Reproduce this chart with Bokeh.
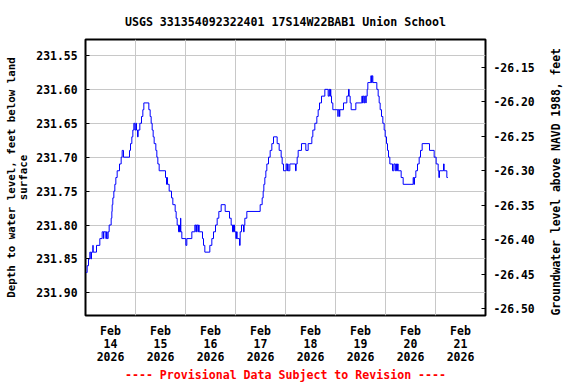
import math
from bokeh.plotting import figure
from bokeh.models import Range1d, LinearAxis, FixedTicker, PrintfTickFormatter
from bokeh.embed import file_html
from bokeh.resources import INLINE

# observation times: hours after 2026-02-14 00:00
obs_hour = [0.32, 0.80, 1.44, 2.08, 2.56, 2.88, 3.52, 3.68, 5.28, 6.88, 8.00, 8.64, 8.80, 9.76,
            10.08, 10.40, 10.88, 11.36, 12.32, 12.64, 12.80, 13.12, 13.60, 14.08, 14.56, 15.20,
            16.32, 17.12, 17.60, 18.24, 21.12, 21.60, 22.24, 22.72, 23.20, 23.68, 24.16, 24.48,
            24.96, 25.28, 26.08, 26.88, 27.52, 28.00, 30.40, 31.04, 31.52, 32.00, 32.48, 32.96,
            33.76, 34.24, 34.72, 35.36, 38.40, 38.88, 39.04, 39.36, 40.16, 41.28, 41.92, 43.04,
            43.52, 44.00, 44.64, 45.12, 45.28, 45.60, 45.76, 46.24, 48.16, 48.64, 51.04, 52.48,
            52.96, 53.28, 53.92, 54.24, 54.56, 56.16, 56.64, 57.28, 59.68, 60.64, 61.44, 62.40,
            63.20, 64.00, 65.12, 67.04, 69.12, 69.92, 70.56, 71.04, 71.52, 72.16, 72.48, 72.80,
            73.92, 74.24, 74.88, 75.84, 76.16, 76.48, 77.44, 83.84, 84.80, 85.28, 85.60, 86.08,
            86.56, 87.04, 87.84, 88.64, 89.44, 90.24, 92.00, 92.96, 93.92, 94.40, 95.04, 96.32,
            96.80, 96.96, 97.28, 98.08, 100.80, 101.12, 101.60, 102.08, 103.68, 105.76, 106.88,
            108.64, 109.12, 110.08, 111.04, 111.68, 112.32, 113.28, 114.88, 116.48, 116.96,
            117.28, 117.60, 117.76, 118.08, 118.72, 121.12, 121.28, 121.92, 122.08, 123.84,
            125.44, 126.24, 126.56, 127.04, 127.52, 129.76, 132.64, 132.96, 133.28, 133.76,
            134.08, 134.56, 134.72, 135.20, 135.52, 136.96, 137.28, 137.60, 137.92, 139.84,
            140.48, 140.96, 141.44, 142.08, 142.72, 143.36, 143.84, 144.48, 144.96, 145.44,
            146.08, 147.36, 148.00, 148.64, 148.96, 149.28, 149.76, 150.08, 151.52, 152.48,
            157.28, 157.60, 157.92, 158.56, 159.36, 160.16, 160.80, 161.60, 165.12, 167.36,
            168.32, 169.28, 169.60, 169.92, 171.84, 172.16, 173.44, 173.92]

depth_ft = [231.87, 231.86, 231.85, 231.84, 231.85, 231.84, 231.83, 231.84, 231.83, 231.82, 231.81,
            231.82, 231.81, 231.82, 231.81, 231.82, 231.81, 231.80, 231.79, 231.78, 231.77, 231.76,
            231.75, 231.74, 231.73, 231.72, 231.71, 231.70, 231.69, 231.70, 231.69, 231.68, 231.67,
            231.66, 231.65, 231.66, 231.65, 231.66, 231.67, 231.66, 231.65, 231.64, 231.63, 231.62,
            231.63, 231.64, 231.65, 231.66, 231.67, 231.68, 231.69, 231.70, 231.71, 231.72, 231.73,
            231.74, 231.73, 231.74, 231.75, 231.76, 231.77, 231.78, 231.79, 231.80, 231.81, 231.80,
            231.81, 231.79, 231.81, 231.82, 231.83, 231.82, 231.81, 231.80, 231.81, 231.80, 231.81,
            231.80, 231.81, 231.82, 231.83, 231.84, 231.83, 231.82, 231.81, 231.80, 231.79, 231.78,
            231.77, 231.78, 231.79, 231.80, 231.81, 231.80, 231.81, 231.82, 231.81, 231.82, 231.83,
            231.81, 231.80, 231.81, 231.80, 231.79, 231.78, 231.77, 231.76, 231.75, 231.74, 231.73,
            231.72, 231.71, 231.70, 231.69, 231.68, 231.67, 231.68, 231.69, 231.70, 231.71, 231.72,
            231.71, 231.72, 231.71, 231.72, 231.71, 231.72, 231.71, 231.70, 231.69, 231.68, 231.69,
            231.68, 231.67, 231.66, 231.65, 231.64, 231.63, 231.62, 231.61, 231.60, 231.61, 231.60,
            231.61, 231.60, 231.61, 231.62, 231.63, 231.64, 231.63, 231.64, 231.63, 231.62, 231.61,
            231.60, 231.61, 231.62, 231.63, 231.62, 231.61, 231.62, 231.61, 231.62, 231.61, 231.62,
            231.61, 231.60, 231.59, 231.58, 231.59, 231.58, 231.59, 231.60, 231.61, 231.62, 231.63,
            231.64, 231.65, 231.66, 231.67, 231.68, 231.69, 231.70, 231.71, 231.72, 231.71, 231.72,
            231.71, 231.72, 231.71, 231.72, 231.73, 231.74, 231.73, 231.74, 231.73, 231.72, 231.71,
            231.70, 231.69, 231.68, 231.69, 231.70, 231.71, 231.72, 231.73, 231.72, 231.71, 231.72,
            231.73, 231.73]

day_label_hours = [12, 36, 60, 84, 108, 132, 156, 180]
day_labels = ["Feb\n14\n2026", "Feb\n15\n2026", "Feb\n16\n2026", "Feb\n17\n2026",
              "Feb\n18\n2026", "Feb\n19\n2026", "Feb\n20\n2026", "Feb\n21\n2026"]
day_bounds = [24, 48, 72, 96, 120, 144, 168]
left_ticks = [231.55, 231.60, 231.65, 231.70, 231.75, 231.80, 231.85, 231.90]
right_ticks = [-26.15, -26.20, -26.25, -26.30, -26.35, -26.40, -26.45, -26.50]

FONT = "DejaVu Sans Mono"

# Bokeh's standalone page template sets the body margin to 0, so the canvas
# fills the 576x384 window exactly.
p = figure(width=576, height=384, output_backend="svg", toolbar_location=None,
           x_range=Range1d(0, 192), y_range=Range1d(231.9334, 231.5265),
           min_border_left=85, min_border_right=91, min_border_top=39, min_border_bottom=68,
           title="USGS 331354092322401 17S14W22BAB1 Union School")

p.title.align = "center"
p.title.text_font = FONT
p.title.text_font_size = "11.6px"
p.title.text_font_style = "bold"
p.title.text_color = "black"
p.title.standoff = 21

p.extra_y_ranges = {"elev": Range1d(-26.5097, -26.1095)}

p.outline_line_color = "black"
p.outline_line_width = 2
p.background_fill_color = "white"
p.border_fill_color = "white"

p.step(obs_hour, depth_ft, mode="after", line_color="#0000ff", line_width=1)

# x axis
xa = p.xaxis[0]
xa.ticker = FixedTicker(ticks=day_label_hours)
xa.major_label_overrides = dict(zip(day_label_hours, day_labels))
xa.major_tick_line_color = None
xa.major_tick_in = 0
xa.major_tick_out = 0
xa.minor_tick_line_color = None
xa.axis_line_color = None
xa.major_label_text_font = FONT
xa.major_label_text_font_size = "11.5px"
xa.major_label_text_font_style = "bold"
xa.major_label_text_color = "black"
xa.major_label_text_line_height = 0.93
xa.major_label_standoff = 8
xa.axis_label = "---- Provisional Data Subject to Revision ----"
xa.axis_label_text_font = FONT
xa.axis_label_text_font_size = "11.6px"
xa.axis_label_text_font_style = "bold"
xa.axis_label_text_color = "#ff0000"
xa.axis_label_text_line_height = 0.9
xa.axis_label_standoff = 1
p.xgrid.ticker = FixedTicker(ticks=day_bounds)
p.xgrid.grid_line_color = "#c8c8c8"

# left axis
ya = p.yaxis[0]
ya.ticker = FixedTicker(ticks=left_ticks)
ya.formatter = PrintfTickFormatter(format="%.2f")
ya.major_tick_in = 4
ya.major_tick_out = 0
ya.major_tick_line_color = "black"
ya.minor_tick_line_color = None
ya.axis_line_color = None
ya.major_label_text_font = FONT
ya.major_label_text_font_size = "11.4px"
ya.major_label_text_font_style = "bold"
ya.major_label_text_color = "black"
ya.major_label_standoff = 8
ya.axis_label = "Depth to water level, feet below land\nsurface"
ya.axis_label_text_font = FONT
ya.axis_label_text_font_size = "10.8px"
ya.axis_label_text_font_style = "bold"
ya.axis_label_text_color = "black"
ya.axis_label_text_line_height = 0.97
ya.axis_label_standoff = 3
p.ygrid.grid_line_color = "#c8c8c8"

# right axis
ra = LinearAxis(y_range_name="elev", ticker=FixedTicker(ticks=right_ticks),
                formatter=PrintfTickFormatter(format="%.2f"))
ra.major_tick_in = 4
ra.major_tick_out = 0
ra.major_tick_line_color = "black"
ra.minor_tick_line_color = None
ra.axis_line_color = None
ra.major_label_text_font = FONT
ra.major_label_text_font_size = "11.4px"
ra.major_label_text_font_style = "bold"
ra.major_label_text_color = "black"
ra.major_label_standoff = 8
ra.axis_label = "Groundwater level above NAVD 1988, feet"
ra.axis_label_orientation = math.pi / 2
ra.axis_label_align = "start"
ra.axis_label_text_font = FONT
ra.axis_label_text_font_size = "11.4px"
ra.axis_label_text_font_style = "bold"
ra.axis_label_text_color = "black"
ra.axis_label_text_line_height = 1.0
ra.axis_label_standoff = 18
p.add_layout(ra, "right")

open("out.html", "w").write(file_html(p, INLINE))
